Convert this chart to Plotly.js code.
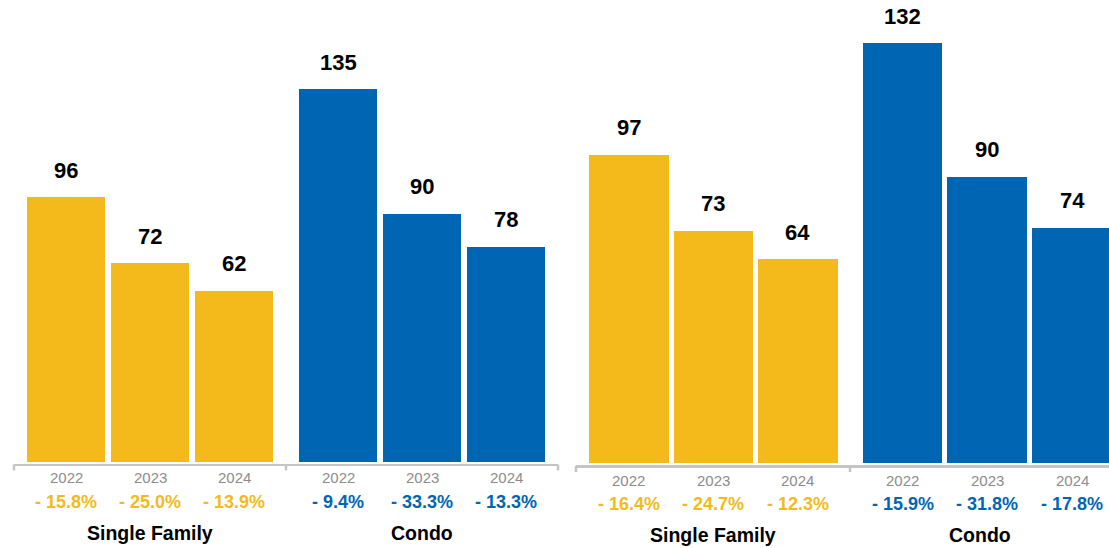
<!DOCTYPE html>
<html><head><meta charset="utf-8">
<script src="https://cdn.plot.ly/plotly-3.0.1.min.js"></script>
<style>html,body{margin:0;padding:0;background:#fff}</style>
</head><body><div id="chart" style="width:1109px;height:548px"></div>
<script>
// ---- data ----
const years = ['2022', '2023', '2024'];
const groupLabels = ['Single Family', 'Condo', 'Single Family', 'Condo'];
const sfLeft = [96, 72, 62];
const condoLeft = [135, 90, 78];
const sfRight = [97, 73, 64];
const condoRight = [132, 90, 74];
const sfLeftPct = ['- 15.8%', '- 25.0%', '- 13.9%'];
const condoLeftPct = ['- 9.4%', '- 33.3%', '- 13.3%'];
const sfRightPct = ['- 16.4%', '- 24.7%', '- 12.3%'];
const condoRightPct = ['- 15.9%', '- 31.8%', '- 17.8%'];

// ---- style ----
const W = 1109, H = 548;
const YELLOW = '#F4BA1C', BLUE = '#0066B3', GRAY = '#8C8C8C', LINE = '#C4C4C4';
const FONT = 'Liberation Sans, Arial, Helvetica, sans-serif';
const px = v => v / W;
const py = v => (H - v) / H;

const groups = [
  {vals: sfLeft, pct: sfLeftPct, color: YELLOW, ax: 'x', yax: 'y', side: 'L'},
  {vals: condoLeft, pct: condoLeftPct, color: BLUE, ax: 'x2', yax: 'y', side: 'L'},
  {vals: sfRight, pct: sfRightPct, color: YELLOW, ax: 'x3', yax: 'y2', side: 'R'},
  {vals: condoRight, pct: condoRightPct, color: BLUE, ax: 'x4', yax: 'y2', side: 'R'}
];
const sideCfg = {
  L: {line: 464.5, year: 477.7, pct: 502.3, label: 533, width: 0.93},
  R: {line: 466, year: 480, pct: 504, label: 535, width: 0.94}
};

const traces = groups.map(g => ({
  type: 'bar', x: years, y: g.vals, xaxis: g.ax, yaxis: g.yax,
  marker: {color: g.color}, width: sideCfg[g.side].width,
  hoverinfo: 'skip', showlegend: false
}));

const annotations = [];
groups.forEach((g, gi) => {
  const c = sideCfg[g.side];
  years.forEach((yr, i) => {
    // category axes: annotation x is the category index
    annotations.push({xref: g.ax, yref: g.yax, x: i, y: g.vals[i], text: '<b>' + g.vals[i] + '</b>',
      showarrow: false, yanchor: 'middle', yshift: 27,
      font: {family: FONT, size: 22, color: '#000'}});
    annotations.push({xref: g.ax, yref: 'paper', x: i, y: py(c.year), text: yr,
      showarrow: false, yanchor: 'middle',
      font: {family: FONT, size: 15, color: GRAY}});
    annotations.push({xref: g.ax, yref: 'paper', x: i, y: py(c.pct), text: '<b>' + g.pct[i] + '</b>',
      showarrow: false, yanchor: 'middle',
      font: {family: FONT, size: 18, color: g.color}});
  });
  annotations.push({xref: g.ax + ' domain', yref: 'paper', x: 0.5, y: py(c.label),
    text: '<b>' + groupLabels[gi] + '</b>', showarrow: false, yanchor: 'middle',
    font: {family: FONT, size: 19.5, color: '#000'}});
});

function xax(domain, range, side) {
  return {domain: domain, range: range, type: 'category', anchor: 'free',
    position: py(sideCfg[side].line), showline: true, linecolor: LINE, linewidth: 2.5,
    showgrid: false, zeroline: false, ticks: '', showticklabels: false, fixedrange: true};
}

const tickShapes = [['x', 0, 'L'], ['x2', 0, 'L'], ['x2', 1, 'L'], ['x3', 0, 'R'], ['x4', 0, 'R']]
  .map(([a, xv, s]) => ({type: 'line', xref: a + ' domain', x0: xv, x1: xv,
    yref: 'paper', ysizemode: 'pixel', yanchor: py(sideCfg[s].line), y0: 0, y1: -6,
    line: {color: LINE, width: 2.5}}));

const layout = {
  width: W, height: H, margin: {l: 0, r: 0, t: 0, b: 0},
  paper_bgcolor: '#fff', plot_bgcolor: 'rgba(0,0,0,0)',
  font: {family: FONT},
  xaxis: xax([px(14), px(286)], [-0.619, 2.619], 'L'),
  xaxis2: xax([px(286), px(558)], [-0.619, 2.619], 'L'),
  xaxis3: xax([px(576), px(850)], [-0.627, 2.616], 'R'),
  xaxis4: xax([px(850), 1], [-0.62, 2.436], 'R'),
  yaxis: {domain: [py(462), 1], range: [0, 462 / 2.76], visible: false, anchor: 'x', fixedrange: true},
  yaxis2: {domain: [py(463), 1], range: [0, 463 / 3.18], visible: false, anchor: 'x3', fixedrange: true},
  annotations: annotations,
  shapes: tickShapes,
  bargap: 0
};

Plotly.newPlot('chart', traces, layout, {displayModeBar: false, staticPlot: true});
</script></body></html>
